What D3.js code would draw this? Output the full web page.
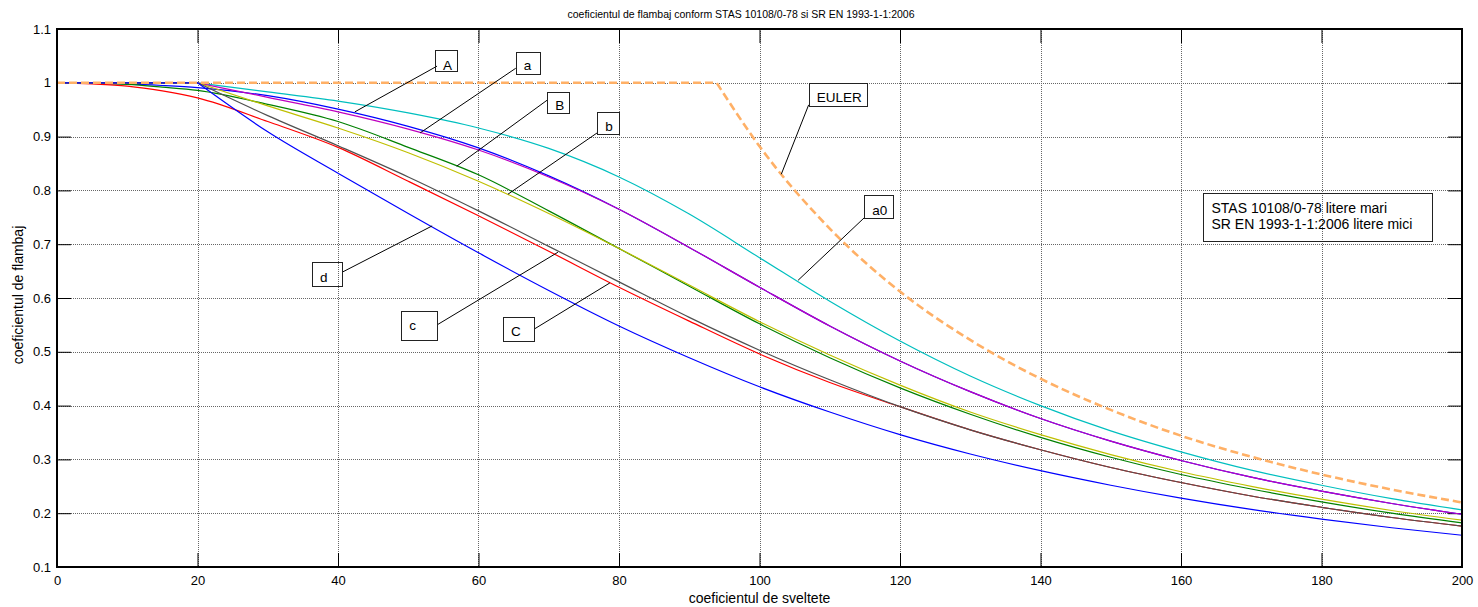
<!DOCTYPE html>
<html>
<head>
<meta charset="utf-8">
<script src="https://cdn.jsdelivr.net/npm/d3@7/dist/d3.min.js"></script>
<style>
  body { margin: 0; background: #fff; }
  text { font-family: "Liberation Sans", Arial, sans-serif; fill: #000; }
</style>
</head>
<body>
<script>
// slenderness values where the curves were read
const lambdaEN = [0, 20, 30, 40, 50, 60, 70, 80, 90, 100, 110, 120, 130, 140, 150, 160, 170, 180, 190, 200]
const lambdaSTAS = [0, 5, 10, 15, 20, 30, 40, 50, 60, 70, 80, 90, 100, 110, 120, 130, 140, 150, 160, 170, 180, 190, 200]
const lambdaEuler = [0, 93.9, 100, 110, 120, 130, 140, 150, 160, 170, 180, 190, 200]

// STAS 10108/0-78 (capital letters)
const curveA = [1, 0.9995, 0.998, 0.995, 0.991, 0.976, 0.951, 0.919, 0.879, 0.827, 0.765, 0.694, 0.620, 0.548, 0.483, 0.426, 0.376, 0.334, 0.298, 0.267, 0.241, 0.218, 0.198]
const curveB = [1, 0.999, 0.997, 0.992, 0.986, 0.960, 0.928, 0.880, 0.829, 0.762, 0.692, 0.622, 0.552, 0.489, 0.433, 0.384, 0.341, 0.304, 0.272, 0.245, 0.221, 0.200, 0.182]
const curveC = [1, 0.998, 0.994, 0.985, 0.972, 0.928, 0.880, 0.817, 0.753, 0.687, 0.620, 0.557, 0.496, 0.443, 0.398, 0.355, 0.318, 0.285, 0.257, 0.232, 0.211, 0.192, 0.176]

// SR EN 1993-1-1:2006 (small letters)
const curveA0 = [1, 1, 0.983, 0.966, 0.944, 0.916, 0.878, 0.825, 0.756, 0.675, 0.594, 0.520, 0.455, 0.400, 0.353, 0.314, 0.280, 0.252, 0.227, 0.206]
const curveSmallA = [1, 1, 0.973, 0.946, 0.914, 0.875, 0.825, 0.765, 0.694, 0.620, 0.548, 0.483, 0.426, 0.376, 0.334, 0.298, 0.267, 0.241, 0.218, 0.198]
const curveSmallB = [1, 1, 0.957, 0.916, 0.870, 0.817, 0.757, 0.692, 0.624, 0.556, 0.494, 0.438, 0.388, 0.346, 0.309, 0.277, 0.250, 0.226, 0.205, 0.187]
const curveSmallC = [1, 1, 0.939, 0.883, 0.825, 0.762, 0.696, 0.630, 0.564, 0.503, 0.448, 0.398, 0.355, 0.318, 0.285, 0.257, 0.232, 0.211, 0.192, 0.176]
const curveSmallD = [1, 1, 0.909, 0.832, 0.757, 0.684, 0.614, 0.548, 0.489, 0.435, 0.388, 0.346, 0.310, 0.279, 0.252, 0.228, 0.207, 0.189, 0.173, 0.159]

const curveEuler = [1, 1, 0.882, 0.729, 0.612, 0.522, 0.450, 0.392, 0.344, 0.305, 0.272, 0.244, 0.220]

const xTicks = [0, 20, 40, 60, 80, 100, 120, 140, 160, 180, 200]
const yTicks = [0.1, 0.2, 0.3, 0.4, 0.5, 0.6, 0.7, 0.8, 0.9, 1, 1.1]

const titleText = 'coeficientul de flambaj conform STAS 10108/0-78 si SR EN 1993-1-1:2006'
const xLabel = 'coeficientul de sveltete'
const yLabel = 'coeficientul de flambaj'
const noteLines = ['STAS 10108/0-78 litere mari', 'SR EN 1993-1-1:2006 litere mici']

// draw order as in the original plot
const series = [
  { xs: lambdaSTAS, ys: curveA, color: '#0000ff' },
  { xs: lambdaSTAS, ys: curveB, color: '#008000' },
  { xs: lambdaSTAS, ys: curveC, color: '#ff0000' },
  { xs: lambdaEN, ys: curveA0, color: '#00bfbf' },
  { xs: lambdaEN, ys: curveSmallA, color: '#bf00bf' },
  { xs: lambdaEN, ys: curveSmallB, color: '#bfbf00' },
  { xs: lambdaEN, ys: curveSmallC, color: '#505050' },
  { xs: lambdaEN, ys: curveSmallD, color: '#0000ff' },
  { xs: lambdaEuler, ys: curveEuler, color: '#ffb066', dash: '8,4', width: 2.6 },
]

// text arrows: box corner and arrow ends in data units
const arrows = [
  { text: 'A', box: [53.8, 1.061], w: 22, h: 21, dy: -1, from: [54.1, 1.031], to: [42.4, 0.946] },
  { text: 'a', box: [65.3, 1.057], w: 24, h: 22, dy: -4, from: [65.3, 1.027], to: [51.7, 0.907] },
  { text: 'B', box: [69.8, 0.983], w: 22, h: 21, dy: -3, from: [69.8, 0.968], to: [56.9, 0.845] },
  { text: 'b', box: [76.9, 0.946], w: 22, h: 22, dy: -3, from: [76.9, 0.907], to: [64.2, 0.793] },
  { text: 'EULER', box: [107.0, 1.0], w: 58, h: 23, dy: -4, from: [107.0, 0.959], to: [103.1, 0.830] },
  { text: 'a0', box: [114.9, 0.791], w: 29, h: 23, dy: -3, from: [114.9, 0.749], to: [105.5, 0.633] },
  { text: 'd', box: [36.3, 0.667], w: 30, h: 24, dy: -4, from: [40.6, 0.648], to: [53.4, 0.734] },
  { text: 'c', box: [49.0, 0.576], w: 36, h: 29, dy: -10, from: [54.1, 0.550], to: [71.3, 0.685] },
  { text: 'C', box: [63.5, 0.564], w: 31, h: 24, dy: -5, from: [67.9, 0.542], to: [78.7, 0.628] },
]

const width = 1478
const height = 607
const margin = { top: 29, right: 16, bottom: 40, left: 57 }

const svg = d3.select('body')
  .append('svg')
  .attr('width', width)
  .attr('height', height)

const x = d3.scaleLinear().domain([0, 200]).range([margin.left, width - margin.right])
const y = d3.scaleLinear().domain([0.1, 1.1]).range([height - margin.bottom, margin.top])

// grid
const grid = svg.append('g')
  .attr('stroke', '#666')
  .attr('stroke-width', 1)
  .attr('stroke-dasharray', '1,1')
grid.selectAll('.vgrid')
  .data(xTicks)
  .enter()
  .append('line')
  .attr('x1', d => Math.round(x(d)) + 0.5)
  .attr('x2', d => Math.round(x(d)) + 0.5)
  .attr('y1', y(1.1))
  .attr('y2', y(0.1))
grid.selectAll('.hgrid')
  .data(yTicks)
  .enter()
  .append('line')
  .attr('y1', d => Math.round(y(d)) + 0.5)
  .attr('y2', d => Math.round(y(d)) + 0.5)
  .attr('x1', x(0))
  .attr('x2', x(200))

// axes, ticks pointing inwards like matlab
const tickFont = '13px'
svg.append('g')
  .attr('transform', `translate(0,${y(0.1)})`)
  .call(d3.axisBottom(x).tickValues(xTicks).tickSizeInner(-14).tickSizeOuter(0).tickPadding(9))
svg.append('g')
  .attr('transform', `translate(0,${y(1.1)})`)
  .call(d3.axisTop(x).tickValues(xTicks).tickSizeInner(-14).tickSizeOuter(0).tickFormat(''))
svg.append('g')
  .attr('transform', `translate(${x(0)},0)`)
  .call(d3.axisLeft(y).tickValues(yTicks).tickSizeInner(-14).tickSizeOuter(0).tickPadding(6).tickFormat(d => String(d)))
svg.append('g')
  .attr('transform', `translate(${x(200)},0)`)
  .call(d3.axisRight(y).tickValues(yTicks).tickSizeInner(-14).tickSizeOuter(0).tickFormat(''))

svg.selectAll('.domain').remove()
svg.selectAll('.tick line').attr('stroke', '#000')
svg.selectAll('.tick text')
  .style('font-size', tickFont)
  .style('font-family', '"Liberation Sans", Arial, sans-serif')
  .attr('fill', '#000')

// flat top drawn straight, the falling part with a smooth curve
function curvePath (xs, ys) {
  const pts = xs.map((v, i) => [v, ys[i]])
  let k = 0
  while (k + 1 < pts.length && pts[k + 1][1] === pts[0][1]) k++
  const straight = d3.line().x(p => x(p[0])).y(p => y(p[1]))
  const smooth = d3.line().curve(d3.curveMonotoneX).x(p => x(p[0])).y(p => y(p[1]))
  const bend = smooth(pts.slice(k))
  return k > 0 ? straight(pts.slice(0, k + 1)) + bend.replace(/^M/, 'L') : bend
}

svg.append('g')
  .selectAll('path')
  .data(series)
  .enter()
  .append('path')
  .attr('d', s => curvePath(s.xs, s.ys))
  .attr('fill', 'none')
  .attr('stroke', s => s.color)
  .attr('stroke-width', s => s.width || 1.2)
  .attr('stroke-dasharray', s => s.dash || null)

// plot frame
svg.append('rect')
  .attr('x', x(0))
  .attr('y', y(1.1))
  .attr('width', x(200) - x(0))
  .attr('height', y(0.1) - y(1.1))
  .attr('fill', 'none')
  .attr('stroke', '#000')
  .attr('stroke-width', 2)

// curve labels
const notes = svg.append('g')
notes.selectAll('line')
  .data(arrows)
  .enter()
  .append('line')
  .attr('x1', d => x(d.from[0]))
  .attr('y1', d => y(d.from[1]))
  .attr('x2', d => x(d.to[0]))
  .attr('y2', d => y(d.to[1]))
  .attr('stroke', '#000')
  .attr('stroke-width', 1)
notes.selectAll('rect')
  .data(arrows)
  .enter()
  .append('rect')
  .attr('x', d => Math.round(x(d.box[0])) + 0.5)
  .attr('y', d => Math.round(y(d.box[1])) + 0.5)
  .attr('width', d => d.w)
  .attr('height', d => d.h)
  .attr('fill', 'none')
  .attr('stroke', '#222')
notes.selectAll('text')
  .data(arrows)
  .enter()
  .append('text')
  .attr('x', d => x(d.box[0]) + 8)
  .attr('y', d => y(d.box[1]) + d.h + d.dy)
  .style('font-size', '13.5px')
  .text(d => d.text)

// note box on the right
const noteBox = svg.append('g')
  .attr('transform', `translate(${Math.round(x(163.1)) + 0.5},${Math.round(y(0.795)) + 0.5})`)
noteBox.append('rect')
  .attr('width', 229)
  .attr('height', 48)
  .attr('fill', 'none')
  .attr('stroke', '#222')
noteBox.selectAll('text')
  .data(noteLines)
  .enter()
  .append('text')
  .attr('x', 8)
  .attr('y', (d, i) => 19 + i * 16.5)
  .style('font-size', '14px')
  .text(d => d)

// titles
svg.append('text')
  .attr('x', width / 2 + 2)
  .attr('y', 18)
  .attr('text-anchor', 'middle')
  .style('font-size', '10.5px')
  .text(titleText)
svg.append('text')
  .attr('x', (x(0) + x(200)) / 2)
  .attr('y', 603)
  .attr('text-anchor', 'middle')
  .style('font-size', '14px')
  .text(xLabel)
svg.append('text')
  .attr('transform', `translate(23,${(y(0.1) + y(1.1)) / 2 - 3}) rotate(-90)`)
  .attr('text-anchor', 'middle')
  .style('font-size', '14px')
  .text(yLabel)
</script>
</body>
</html>
